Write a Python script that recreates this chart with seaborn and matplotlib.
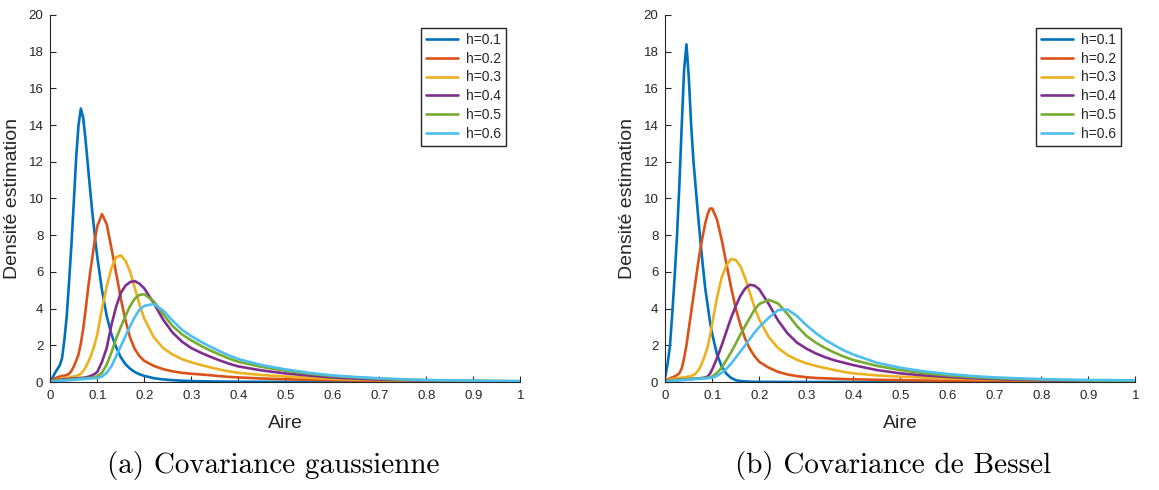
import numpy as np
import pandas as pd
import matplotlib
matplotlib.use("Agg")
import matplotlib.pyplot as plt
import seaborn as sns

# ---- data ----
aire = [0, .005, .01, .015, .02, .025, .03, .035, .04, .045, .05, .055, .06, .065, .07, .075, .08, .085, .09, .095, .1,
        .11, .12, .13, .14, .15, .16, .17, .18, .19, .2,
        .22, .24, .26, .28, .3, .32, .34, .36, .38, .4,
        .45, .5, .55, .6, .65, .7, .75, .8, .85, .9, .95, 1.0]

series_labels = ["h=0.1", "h=0.2", "h=0.3", "h=0.4", "h=0.5", "h=0.6"]

# (a) Covariance gaussienne
gauss_h01 = [0.0, 0.25, 0.5, 0.7, 0.9, 1.3, 2.3, 3.6, 5.5, 7.5, 9.8, 12.2, 14.0, 14.9, 14.4, 13.2, 11.8, 10.4, 9.1, 7.9, 6.8,
             5.0, 3.6, 2.6, 1.9, 1.35, 0.97, 0.72, 0.54, 0.42, 0.33,
             0.21, 0.14, 0.1, 0.07, 0.05, 0.04, 0.03, 0.025, 0.02, 0.015,
             0.01, 0.008, 0.006, 0.005, 0.004, 0.003, 0.003, 0.002, 0.002, 0.001, 0.001, 0.001]
gauss_h02 = [0.0, 0.1, 0.2, 0.25, 0.3, 0.32, 0.35, 0.38, 0.45, 0.6, 0.85, 1.15, 1.5, 2.1, 2.9, 3.9, 5.0, 6.0, 6.9, 7.8, 8.5,
             9.15, 8.6, 7.3, 5.95, 4.55, 3.35, 2.4, 1.78, 1.4, 1.15,
             0.88, 0.7, 0.58, 0.5, 0.45, 0.41, 0.37, 0.32, 0.28, 0.25,
             0.19, 0.15, 0.12, 0.1, 0.08, 0.065, 0.05, 0.04, 0.035, 0.03, 0.025, 0.02]
gauss_h03 = [0.0, 0.05, 0.1, 0.12, 0.15, 0.17, 0.2, 0.22, 0.25, 0.27, 0.3, 0.33, 0.38, 0.45, 0.6, 0.8, 1.05, 1.35, 1.7, 2.1, 2.6,
             4.0, 5.2, 6.2, 6.8, 6.9, 6.6, 6.0, 5.1, 4.2, 3.45,
             2.45, 1.85, 1.5, 1.25, 1.07, 0.93, 0.8, 0.68, 0.58, 0.5,
             0.38, 0.3, 0.23, 0.17, 0.13, 0.1, 0.08, 0.06, 0.05, 0.04, 0.03, 0.025]
gauss_h04 = [0.0, 0.04, 0.08, 0.1, 0.12, 0.13, 0.15, 0.16, 0.17, 0.18, 0.19, 0.2, 0.21, 0.22, 0.23, 0.25, 0.28, 0.32, 0.38, 0.45, 0.55,
             1.1, 1.85, 3.1, 4.1, 4.85, 5.25, 5.45, 5.5, 5.35, 5.1,
             4.3, 3.4, 2.7, 2.2, 1.85, 1.6, 1.38, 1.18, 1.0, 0.85,
             0.63, 0.47, 0.35, 0.25, 0.18, 0.13, 0.1, 0.08, 0.06, 0.05, 0.04, 0.03]
gauss_h05 = [0.0, 0.03, 0.06, 0.08, 0.09, 0.1, 0.11, 0.12, 0.13, 0.14, 0.15, 0.16, 0.17, 0.18, 0.19, 0.2, 0.21, 0.22, 0.24, 0.27, 0.32,
             0.5, 0.95, 1.6, 2.35, 3.0, 3.6, 4.15, 4.55, 4.75, 4.78,
             4.4, 3.7, 3.05, 2.6, 2.27, 1.98, 1.72, 1.5, 1.28, 1.1,
             0.82, 0.62, 0.45, 0.33, 0.25, 0.18, 0.13, 0.1, 0.08, 0.065, 0.05, 0.04]
gauss_h06 = [0.0, 0.02, 0.04, 0.05, 0.06, 0.07, 0.08, 0.09, 0.1, 0.11, 0.12, 0.13, 0.14, 0.15, 0.16, 0.17, 0.18, 0.19, 0.2, 0.21, 0.22,
             0.3, 0.5, 0.85, 1.4, 1.95, 2.5, 3.05, 3.55, 3.95, 4.15,
             4.25, 3.9, 3.35, 2.85, 2.5, 2.2, 1.93, 1.68, 1.45, 1.25,
             0.92, 0.69, 0.5, 0.36, 0.27, 0.2, 0.15, 0.11, 0.09, 0.07, 0.06, 0.05]

# (b) Covariance de Bessel
bessel_h01 = [0.3, 1.0, 2.0, 3.8, 5.8, 8.0, 10.8, 14.0, 17.0, 18.4, 16.6, 14.0, 12.0, 10.5, 9.0, 7.6, 6.3, 5.1, 4.2, 3.3, 2.6,
              1.5, 0.85, 0.45, 0.22, 0.1, 0.05, 0.03, 0.02, 0.01, 0.01,
              0.005, 0.003, 0.002, 0.001, 0.001, 0.0, 0.0, 0.0, 0.0, 0.0,
              0.0, 0.0, 0.0, 0.0, 0.0, 0.0, 0.0, 0.0, 0.0, 0.0, 0.0, 0.0]
bessel_h02 = [0.1, 0.15, 0.2, 0.25, 0.3, 0.38, 0.48, 0.75, 1.3, 2.0, 2.9, 3.8, 4.7, 5.6, 6.5, 7.3, 8.0, 8.65, 9.15, 9.45, 9.45,
              8.85, 7.75, 6.45, 5.15, 4.0, 3.1, 2.35, 1.8, 1.4, 1.1,
              0.78, 0.55, 0.41, 0.32, 0.26, 0.22, 0.2, 0.18, 0.16, 0.15,
              0.12, 0.1, 0.08, 0.065, 0.05, 0.04, 0.035, 0.03, 0.025, 0.02, 0.018, 0.015]
bessel_h03 = [0.1, 0.12, 0.14, 0.16, 0.18, 0.2, 0.22, 0.24, 0.26, 0.28, 0.3, 0.33, 0.38, 0.48, 0.62, 0.85, 1.15, 1.5, 1.9, 2.5, 3.2,
              4.6, 5.7, 6.35, 6.7, 6.65, 6.3, 5.65, 4.85, 4.05, 3.4,
              2.45, 1.85, 1.47, 1.21, 1.02, 0.88, 0.76, 0.65, 0.55, 0.47,
              0.36, 0.29, 0.24, 0.2, 0.16, 0.13, 0.1, 0.08, 0.06, 0.05, 0.04, 0.03]
bessel_h04 = [0.05, 0.07, 0.08, 0.09, 0.1, 0.11, 0.12, 0.13, 0.14, 0.15, 0.16, 0.17, 0.18, 0.19, 0.2, 0.21, 0.22, 0.25, 0.3, 0.45, 0.7,
              1.3, 2.0, 2.75, 3.5, 4.15, 4.7, 5.1, 5.3, 5.25, 5.05,
              4.25, 3.35, 2.65, 2.15, 1.82, 1.56, 1.35, 1.18, 1.05, 0.92,
              0.65, 0.47, 0.36, 0.28, 0.21, 0.16, 0.12, 0.09, 0.07, 0.055, 0.045, 0.035]
bessel_h05 = [0.05, 0.06, 0.07, 0.08, 0.09, 0.1, 0.11, 0.12, 0.13, 0.14, 0.15, 0.16, 0.17, 0.18, 0.19, 0.2, 0.21, 0.22, 0.23, 0.25, 0.3,
              0.5, 0.78, 1.2, 1.62, 2.1, 2.6, 3.05, 3.5, 3.95, 4.25,
              4.48, 4.28, 3.7, 3.05, 2.52, 2.15, 1.85, 1.6, 1.38, 1.2,
              0.88, 0.65, 0.48, 0.36, 0.27, 0.21, 0.16, 0.13, 0.1, 0.08, 0.065, 0.055]
bessel_h06 = [0.03, 0.04, 0.05, 0.06, 0.07, 0.08, 0.09, 0.1, 0.11, 0.12, 0.13, 0.14, 0.15, 0.16, 0.17, 0.18, 0.19, 0.2, 0.21, 0.22, 0.24,
              0.33, 0.5, 0.72, 1.0, 1.33, 1.67, 2.0, 2.35, 2.7, 3.0,
              3.5, 3.92, 3.95, 3.6, 3.1, 2.67, 2.3, 2.0, 1.72, 1.5,
              1.05, 0.78, 0.58, 0.44, 0.33, 0.25, 0.2, 0.16, 0.13, 0.11, 0.1, 0.09]

gauss_series = [gauss_h01, gauss_h02, gauss_h03, gauss_h04, gauss_h05, gauss_h06]
bessel_series = [bessel_h01, bessel_h02, bessel_h03, bessel_h04, bessel_h05, bessel_h06]

x_ticks = [0, 0.1, 0.2, 0.3, 0.4, 0.5, 0.6, 0.7, 0.8, 0.9, 1.0]
x_tick_labels = ["0", "0.1", "0.2", "0.3", "0.4", "0.5", "0.6", "0.7", "0.8", "0.9", "1"]
y_ticks = [0, 2, 4, 6, 8, 10, 12, 14, 16, 18, 20]
y_tick_labels = ["0", "2", "4", "6", "8", "10", "12", "14", "16", "18", "20"]

captions = ["(a) Covariance gaussienne", "(b) Covariance de Bessel"]
x_label = "Aire"
y_label = "Densité estimation"

colors = ["#0072BD", "#D95319", "#EDB120", "#7E2F8E", "#77AC30", "#4DBEEE"]

# ---- style ----
sns.set_theme(style="ticks")
plt.rcParams["font.family"] = ["Liberation Sans", "DejaVu Sans"]
axis_col = "#262626"


def long_frame(series_list):
    frames = []
    for lab, vals in zip(series_labels, series_list):
        frames.append(pd.DataFrame({"Aire": aire, "Densite": vals, "h": lab}))
    return pd.concat(frames, ignore_index=True)


fig = plt.figure(figsize=(11.59, 4.90), dpi=100)
W, H = 1159, 490
ax_left = fig.add_axes([50.3 / W, (H - 382) / H, 470 / W, 367 / H])
ax_right = fig.add_axes([665.3 / W, (H - 382) / H, 470 / W, 367 / H])

for ax, series_list, cap, cx in [(ax_left, gauss_series, captions[0], 273),
                                 (ax_right, bessel_series, captions[1], 893)]:
    df = long_frame(series_list)
    sns.lineplot(data=df, x="Aire", y="Densite", hue="h", palette=colors,
                 linewidth=1.9, ax=ax, sort=False, legend=False)
    ax.set_xlim(0, 1)
    ax.set_ylim(0, 20)
    ax.set_xticks(x_ticks)
    ax.set_xticklabels(x_tick_labels)
    ax.set_yticks(y_ticks)
    ax.set_yticklabels(y_tick_labels)
    ax.tick_params(direction="in", length=4, width=0.8, colors=axis_col,
                   labelsize=9.5, labelcolor=axis_col)
    ax.tick_params(axis="x", pad=6)
    ax.tick_params(axis="y", pad=5)
    for s in ["top", "right"]:
        ax.spines[s].set_visible(False)
    for s in ["left", "bottom"]:
        ax.spines[s].set_color(axis_col)
        ax.spines[s].set_linewidth(0.8)
    ax.set_xlabel(x_label, fontsize=14, color=axis_col)
    ax.set_ylabel(y_label, fontsize=14, color=axis_col)
    ax.xaxis.set_label_coords(0.5, -0.09)
    ax.yaxis.set_label_coords(-0.062, 0.5)
    handles = ax.get_lines()[:6]
    leg = ax.legend(handles, series_labels, loc="upper right",
                    bbox_to_anchor=(0.97, 0.965), fontsize=10,
                    frameon=True, fancybox=False, framealpha=1,
                    edgecolor=axis_col, borderpad=0.35, labelspacing=0.35,
                    handlelength=2.3, handletextpad=0.6, borderaxespad=0)
    leg.get_frame().set_linewidth(1.0)
    for t in leg.get_texts():
        t.set_color(axis_col)
    fig.text(cx / W, 1 - 465 / H, cap, fontsize=21, family="cmr10",
             ha="center", va="center", color="black")

fig.savefig("out.png", dpi=100)
